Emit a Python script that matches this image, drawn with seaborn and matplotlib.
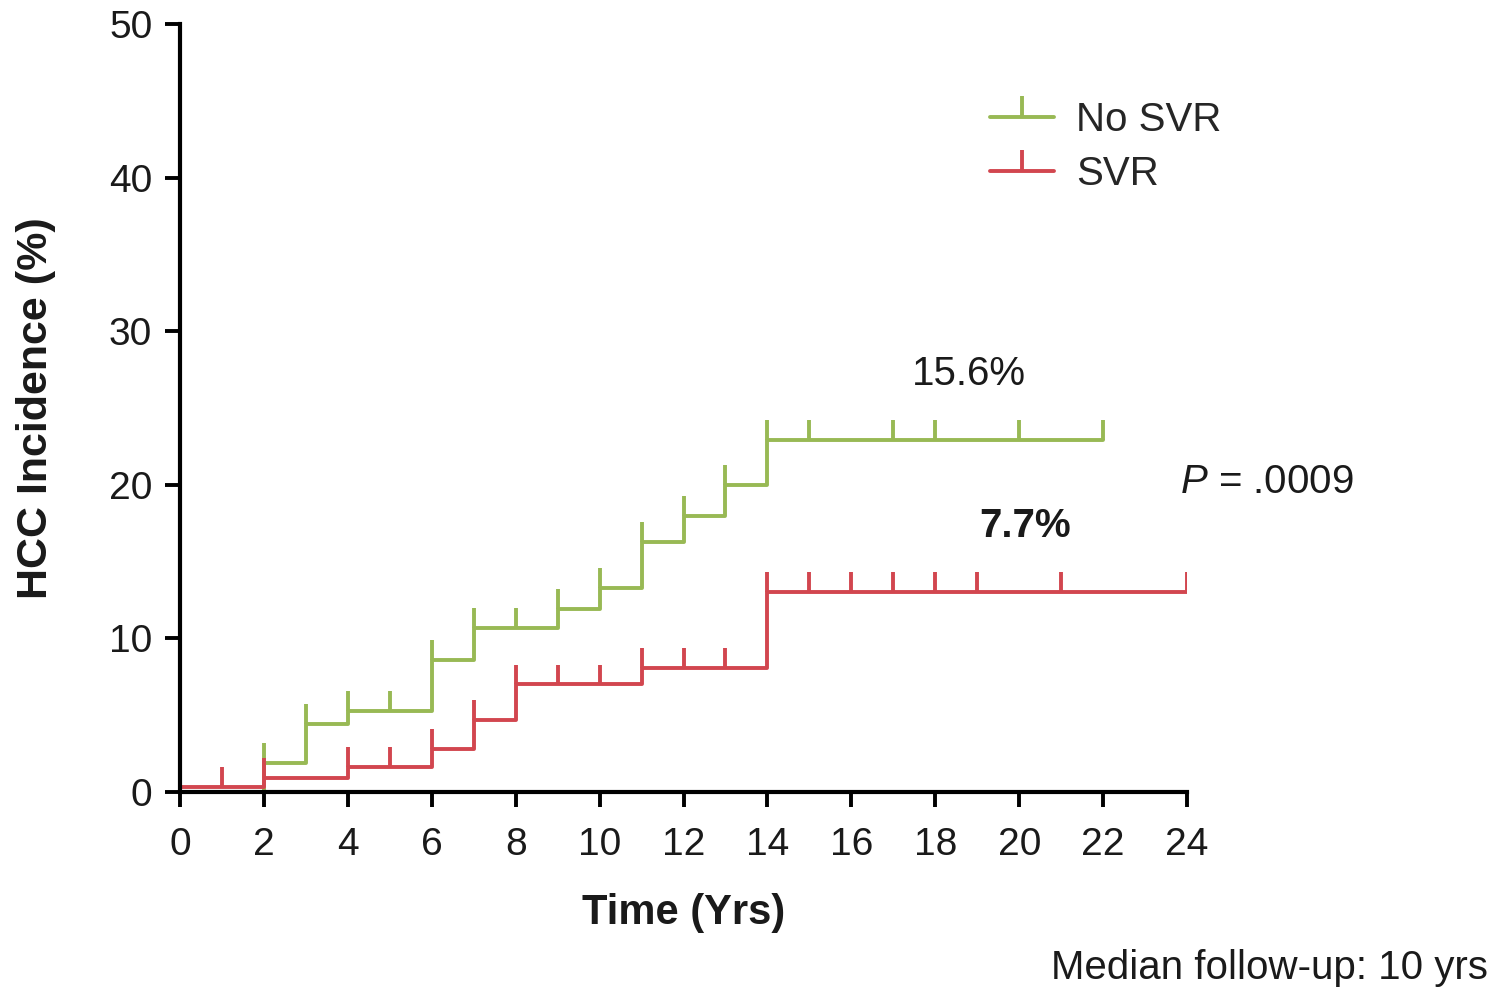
import numpy as np
import pandas as pd
import matplotlib
matplotlib.use("Agg")
import matplotlib.pyplot as plt
from matplotlib.lines import Line2D
from matplotlib.path import Path
import seaborn as sns

# ---------------- data ----------------
groups = ["No SVR", "SVR"]
nosvr_times = [0, 2, 3, 4, 6, 7, 9, 10, 11, 12, 13, 14, 22]
nosvr_vals = [0.0, 1.9, 4.4, 5.3, 8.6, 10.7, 11.9, 13.3, 16.3, 18.0, 20.0, 22.9, 22.9]
nosvr_censor = [2, 3, 4, 5, 6, 7, 8, 9, 10, 11, 12, 13, 14, 15, 17, 18, 20, 22]

svr_times = [0, 2, 4, 6, 7, 8, 11, 14, 24]
svr_vals = [0.3, 0.9, 1.6, 2.8, 4.7, 7.0, 8.1, 13.0, 13.0]
svr_censor = [1, 2, 4, 5, 6, 7, 8, 9, 10, 11, 12, 13, 14, 15, 16, 17, 18, 19, 21, 24]

x_ticks = list(range(0, 25, 2))
y_ticks = [0, 10, 20, 30, 40, 50]
annot_nosvr = "15.6%"
annot_svr = "7.7%"
p_text = r"$\mathit{P}$ = .0009"
footnote = "Median follow-up: 10 yrs"

colors = {"No SVR": "#98b954", "SVR": "#d2464f"}

# ---------------- build frame ----------------
df = pd.concat([
    pd.DataFrame({"time": nosvr_times, "inc": nosvr_vals, "group": "No SVR"}),
    pd.DataFrame({"time": svr_times, "inc": svr_vals, "group": "SVR"}),
], ignore_index=True)

sns.set_theme(style="white")
plt.rcParams["font.family"] = ["Liberation Sans", "DejaVu Sans"]
plt.rcParams["mathtext.fontset"] = "custom"
plt.rcParams["mathtext.it"] = "Liberation Sans:italic"
plt.rcParams["mathtext.rm"] = "Liberation Sans"

fig = plt.figure(figsize=(14.98, 9.90), dpi=100)
ax = fig.add_axes([0.1202, 0.2, 0.6722, 0.7758])

lw = 2.8
sns.lineplot(data=df, x="time", y="inc", hue="group", hue_order=groups,
             palette=colors, estimator=None, drawstyle="steps-post",
             linewidth=lw, legend=False, ax=ax, sort=True)

# censor / event ticks (drawn upward from the curve)
tick_h = 1.3
for times, vals, cens, g in [(nosvr_times, nosvr_vals, nosvr_censor, "No SVR"),
                             (svr_times, svr_vals, svr_censor, "SVR")]:
    t = np.asarray(times, float)
    v = np.asarray(vals, float)
    c = np.asarray(cens, float)
    lvl = v[np.searchsorted(t, c, side="right") - 1]
    ax.vlines(c, lvl, lvl + tick_h, colors=colors[g], linewidth=lw, zorder=3)

ax.set_xlim(0, 24)
ax.set_ylim(0, 50)
ax.set_xticks(x_ticks)
ax.set_yticks(y_ticks)
ax.tick_params(axis="both", which="major", direction="out", length=11,
               width=2.8, color="black", labelsize=28, labelcolor="#1a1a1a",
               bottom=True, left=True)
ax.tick_params(axis="x", pad=14)
ax.tick_params(axis="y", pad=9)
for s in ["top", "right"]:
    ax.spines[s].set_visible(False)
for s in ["left", "bottom"]:
    ax.spines[s].set_color("black")
    ax.spines[s].set_linewidth(3.0)

ax.set_xlabel("Time (Yrs)", fontsize=30, fontweight="bold", labelpad=22, color="#1a1a1a")
ax.set_ylabel("HCC Incidence (%)", fontsize=31, fontweight="bold", labelpad=38, color="#1a1a1a")

# annotations
ax.text(18.8, 27.2, annot_nosvr, fontsize=29, ha="center", va="center", color="#1a1a1a")
ax.text(20.15, 17.3, annot_svr, fontsize=29, fontweight="bold", ha="center", va="center", color="#1a1a1a")
ax.text(25.9, 20.2, p_text, fontsize=29, ha="center", va="center", color="#1a1a1a", clip_on=False)
fig.text(0.993, 0.011, footnote, fontsize=29, ha="right", va="baseline", color="#1a1a1a")

# legend with ⊥ style handles
tick_marker = Path([(0, 0), (0, 1)], [Path.MOVETO, Path.LINETO])
handles = [Line2D([], [], color=colors[g], linewidth=lw, marker=tick_marker,
                  markersize=30, markeredgewidth=lw, markeredgecolor=colors[g])
           for g in groups]
ax.legend(handles, groups, loc="upper left", bbox_to_anchor=(0.804, 0.9),
          frameon=False, fontsize=29, handlelength=1.6, handletextpad=0.55,
          labelspacing=0.4, borderpad=0, borderaxespad=0, numpoints=1)

fig.savefig("out.png", dpi=100)
